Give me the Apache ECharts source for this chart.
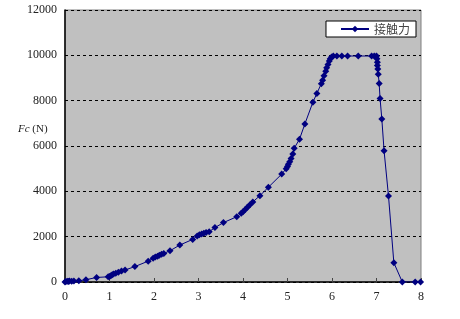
<!DOCTYPE html>
<html>
<head>
<meta charset="utf-8">
<script src="https://cdn.jsdelivr.net/npm/echarts@6/dist/echarts.min.js"></script>
<style>html,body{margin:0;padding:0;background:#fff;}#c{width:460px;height:319px;}</style>
</head>
<body>
<div id="c"></div>
<script>
var seriesName = '接触力';
var xValues = [0,0.02,0.05,0.08,0.1,0.15,0.2,0.31,0.47,0.71,0.97,1.0,1.03,1.06,1.09,1.14,1.2,1.27,1.35,1.57,1.87,1.98,2.03,2.08,2.12,2.17,2.22,2.36,2.58,2.87,2.97,3.02,3.07,3.12,3.17,3.24,3.37,3.56,3.86,3.96,4.0,4.05,4.1,4.15,4.22,4.38,4.57,4.87,4.97,5.0,5.02,5.05,5.08,5.12,5.15,5.27,5.39,5.57,5.66,5.76,5.79,5.82,5.86,5.88,5.91,5.94,5.96,5.99,6.03,6.11,6.22,6.35,6.59,6.89,6.95,7.0,7.01,7.02,7.02,7.03,7.04,7.06,7.08,7.12,7.17,7.27,7.39,7.58,7.87,7.99];
var yValues = [0,20,30,20,40,30,40,50,100,200,230,240,280,320,350,390,430,480,530,680,920,1050,1100,1140,1180,1220,1260,1380,1630,1880,2030,2080,2120,2150,2180,2220,2400,2620,2880,3030,3100,3200,3300,3400,3530,3810,4180,4760,5000,5100,5200,5300,5450,5650,5900,6300,6970,7930,8320,8750,8900,9100,9300,9450,9600,9750,9850,9930,9970,9970,9970,9970,9970,9970,9970,9970,9850,9700,9550,9400,9170,8760,8100,7190,5790,3790,850,0,0,0];
var xTicks = [0,1,2,3,4,5,6,7,8];
var yTicks = [0,2000,4000,6000,8000,10000,12000];

var data = xValues.map(function(x,i){return [x,yValues[i]];});
var chart = echarts.init(document.getElementById('c'));
var serif = '"Liberation Serif","DejaVu Serif",serif';
chart.setOption({
  animation:false,
  grid:{left:65,right:39,top:10,bottom:37,show:true,backgroundColor:'#C0C0C0',borderColor:'#808080',borderWidth:1},
  legend:{
    right:44,top:21,
    backgroundColor:'#fff',borderColor:'#000',borderWidth:1,
    padding:[2,6,2,14],
    itemWidth:28,itemHeight:8,
    textStyle:{fontFamily:'"Noto Sans CJK SC",sans-serif',fontSize:12,color:'#444'},
    data:[seriesName]
  },
  graphic:[{
    type:'text',left:18,top:124,
    style:{text:'{i|Fc} (N)',rich:{i:{fontStyle:'italic',fontFamily:serif,fontSize:11,fill:'#222'}},fontFamily:serif,fontSize:11,fill:'#222'}
  }],
  xAxis:{
    type:'value',min:xTicks[0],max:xTicks[xTicks.length-1],interval:1,
    axisLine:{show:true,onZero:false,lineStyle:{color:'#000',width:1.5}},
    axisTick:{show:true,inside:true,length:4,lineStyle:{color:'#444'}},
    axisLabel:{fontFamily:serif,fontSize:12,color:'#222',margin:9},
    splitLine:{show:false}
  },
  yAxis:{
    type:'value',min:yTicks[0],max:yTicks[yTicks.length-1],interval:2000,
    axisLine:{show:true,lineStyle:{color:'#000',width:1.5}},
    axisTick:{show:false},
    axisLabel:{fontFamily:serif,fontSize:12,color:'#222',margin:8,formatter:function(v){return String(v);}},
    splitLine:{show:true,lineStyle:{color:'#000',type:[3,3],width:1}}
  },
  series:[{
    name:seriesName,type:'line',data:data,
    symbol:'diamond',symbolSize:7,
    lineStyle:{color:'#000080',width:1},
    itemStyle:{color:'#000080'}
  }]
});
</script>
</body>
</html>
